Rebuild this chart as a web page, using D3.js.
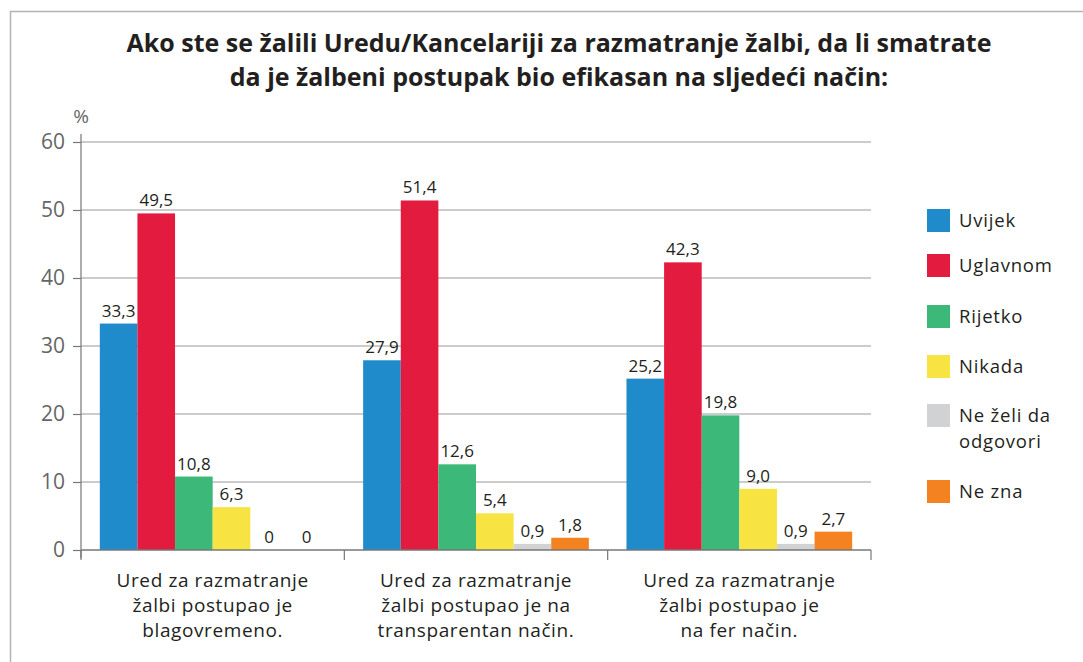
<!DOCTYPE html>
<html>
<head>
<meta charset="utf-8">
<script src="https://cdn.jsdelivr.net/npm/d3@7"></script>
<style>
  body { margin: 0; background: #fff; }
  svg { font-family: "Open Sans", "Noto Sans", sans-serif; }
</style>
</head>
<body>
<svg id="chart" width="1083" height="662"></svg>
<script>
var titleLines = ["Ako ste se žalili Uredu/Kancelariji za razmatranje žalbi, da li smatrate",
                  "da je žalbeni postupak bio efikasan na sljedeći način:"];
var categories = [
  ["Ured za razmatranje", "žalbi postupao je", "blagovremeno."],
  ["Ured za razmatranje", "žalbi postupao je na", "transparentan način."],
  ["Ured za razmatranje", "žalbi postupao je", "na fer način."]
];
var seriesNames = ["Uvijek", "Uglavnom", "Rijetko", "Nikada", "Ne želi da odgovori", "Ne zna"];
var seriesColors = ["#1f8bcb", "#e31b3f", "#3cb878", "#f7e442", "#d1d2d4", "#f58220"];
var uvijek   = [33.3, 27.9, 25.2];
var uglavnom = [49.5, 51.4, 42.3];
var rijetko  = [10.8, 12.6, 19.8];
var nikada   = [6.3, 5.4, 9.0];
var neZeli   = [0, 0.9, 0.9];
var neZna    = [0, 1.8, 2.7];
var yTicks = [0, 10, 20, 30, 40, 50, 60];

var values = [uvijek, uglavnom, rijetko, nikada, neZeli, neZna];

var svg = d3.select("#chart");
var margin = {left: 81, right: 212, top: 142, bottom: 112};
var width = 1083 - margin.left - margin.right;
var height = 662 - margin.top - margin.bottom;

// outer frame
svg.append("rect")
  .attr("x", 10.5).attr("y", 11.5)
  .attr("width", 1200).attr("height", 1000)
  .attr("fill", "none").attr("stroke", "#b3b3b3").attr("stroke-width", 1.5);

// title
svg.append("g").selectAll("text")
  .data(titleLines).enter().append("text")
  .attr("x", 559).attr("y", function(d, i){ return 52 + i * 34; })
  .attr("text-anchor", "middle")
  .attr("font-size", 25).attr("font-weight", "bold").attr("fill", "#231f20")
  .text(function(d){ return d; });

var g = svg.append("g").attr("transform", "translate(" + margin.left + "," + margin.top + ")");

var x0 = d3.scaleBand().domain(d3.range(categories.length)).range([0, width]);
var x1 = d3.scaleBand().domain(d3.range(seriesNames.length))
  .range([0, x0.bandwidth()]).paddingOuter(0.5);
var y = d3.scaleLinear().domain([0, 60]).range([height, 0]);

// grid lines
g.append("g").selectAll("line")
  .data(yTicks.slice(1)).enter().append("line")
  .attr("x1", 0).attr("x2", width)
  .attr("y1", function(d){ return y(d); }).attr("y2", function(d){ return y(d); })
  .attr("stroke", "#9a9a9a").attr("stroke-width", 1.2);

// y axis
var yAxis = g.append("g")
  .call(d3.axisLeft(y).tickValues(yTicks).tickSize(8).tickPadding(8));
yAxis.select(".domain").attr("stroke", "#777").attr("stroke-width", 1.2)
  .attr("d", "M0," + (height + 8) + "V-8");
yAxis.selectAll(".tick line").attr("stroke", "#777").attr("stroke-width", 1.2);
yAxis.selectAll(".tick text").attr("font-size", 21).attr("fill", "#666")
  .attr("font-family", "\"Open Sans\", sans-serif");

g.append("text").attr("x", 0).attr("y", -19)
  .attr("text-anchor", "middle").attr("font-size", 19).attr("fill", "#666")
  .text("%");

// bars
var groups = g.append("g").selectAll("g")
  .data(categories).enter().append("g")
  .attr("transform", function(d, i){ return "translate(" + x0(i) + ",0)"; });

groups.selectAll("rect")
  .data(function(d, i){ return values.map(function(s, k){ return {k: k, v: s[i]}; }); })
  .enter().append("rect")
  .attr("x", function(d){ return x1(d.k); })
  .attr("width", x1.bandwidth())
  .attr("y", function(d){ return y(d.v); })
  .attr("height", function(d){ return height - y(d.v); })
  .attr("fill", function(d){ return seriesColors[d.k]; });

groups.selectAll("text.val")
  .data(function(d, i){ return values.map(function(s, k){ return {k: k, v: s[i]}; }); })
  .enter().append("text").attr("class", "val")
  .attr("x", function(d){ return x1(d.k) + x1.bandwidth() / 2; })
  .attr("y", function(d){ return y(d.v) - 7; })
  .attr("text-anchor", "middle").attr("font-size", 17).attr("fill", "#231f20")
  .text(function(d){ return d.v === 0 ? "0" : d.v.toFixed(1).replace(".", ","); });

// x axis
g.append("line").attr("x1", 0).attr("x2", width)
  .attr("y1", height).attr("y2", height)
  .attr("stroke", "#777").attr("stroke-width", 1.5);
g.append("g").selectAll("line")
  .data(d3.range(categories.length + 1)).enter().append("line")
  .attr("x1", function(d){ return d * x0.bandwidth(); })
  .attr("x2", function(d){ return d * x0.bandwidth(); })
  .attr("y1", height).attr("y2", height + 10)
  .attr("stroke", "#777").attr("stroke-width", 1.2);

groups.each(function(lines){
  d3.select(this).selectAll("text.cat")
    .data(lines).enter().append("text").attr("class", "cat")
    .attr("x", x0.bandwidth() / 2)
    .attr("y", function(d, j){ return height + 37 + j * 25; })
    .attr("text-anchor", "middle").attr("font-size", 19).attr("fill", "#231f20")
    .attr("letter-spacing", 0.6)
    .text(function(d){ return d; });
});

// legend
var legendY = [209, 254, 305, 355, 404, 480];
var legend = svg.append("g").selectAll("g")
  .data(seriesNames).enter().append("g")
  .attr("transform", function(d, i){ return "translate(927," + legendY[i] + ")"; });
legend.append("rect").attr("width", 23).attr("height", 23)
  .attr("fill", function(d, i){ return seriesColors[i]; });
legend.each(function(d){
  var words = d === "Ne želi da odgovori" ? ["Ne želi da", "odgovori"] : [d];
  d3.select(this).selectAll("text").data(words).enter().append("text")
    .attr("x", 32).attr("y", function(w, j){ return 18 + j * 26; })
    .attr("font-size", 18.5).attr("fill", "#231f20")
    .attr("letter-spacing", 0.8)
    .text(function(w){ return w; });
});
</script>
</body>
</html>
